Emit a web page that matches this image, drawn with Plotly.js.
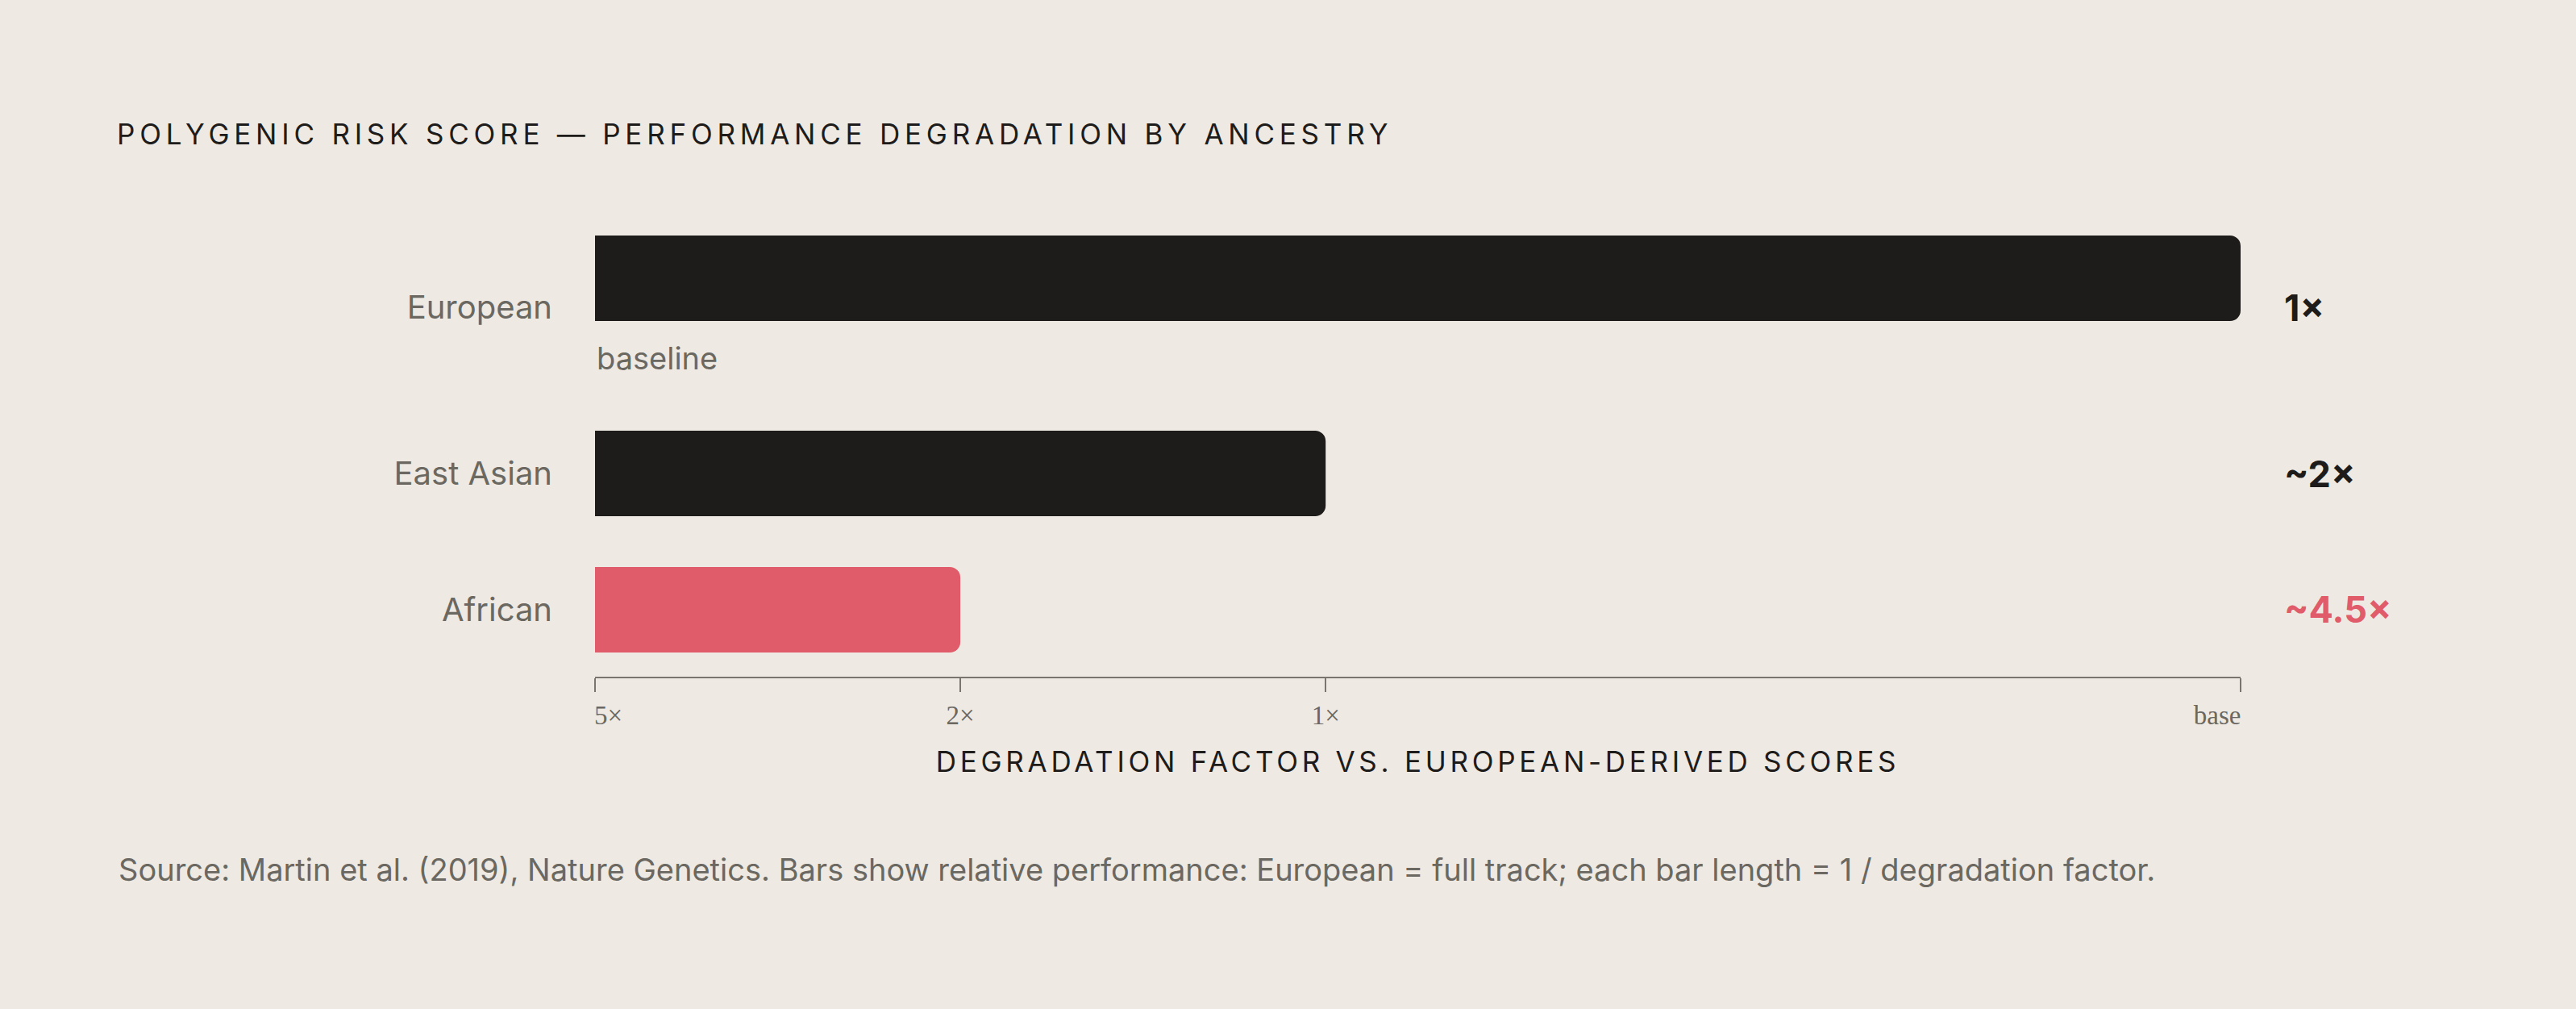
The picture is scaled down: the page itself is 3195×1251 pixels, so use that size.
<!DOCTYPE html>
<html>
<head>
<meta charset="utf-8">
<script src="https://cdn.plot.ly/plotly-3.0.1.min.js"></script>
<style>
  html, body { margin: 0; padding: 0; background: #eeeae3; }
  #chart { width: 3195px; height: 1251px; }
  /* spaced capitals for the titles */
  .gtitle { letter-spacing: 0.165em; }
  .xtitle { letter-spacing: 0.135em; }
</style>
</head>
<body>
<div id="chart"></div>
<script>
// rows, top to bottom
var ancestries = ['European', 'East Asian', 'African'];
// bar length (European = full track)
var relPerf = [1, 0.444, 0.222];
var factorLabels = ['1×', '~2×', '~4.5×'];
var barColors = ['#1e1c1a', '#1e1c1a', '#e05c6b'];

// x axis ticks (edge labels are cut off in the original)
var tickVals = [0, 0.222, 0.444, 1];
var tickText = ['\u00a0\u00a0\u00a0\u00a05×', '2×', '1×', 'base\u00a0\u00a0\u00a0\u00a0\u00a0\u00a0\u00a0'];

var ink = '#1e1c1a';
var grey = '#6b6761';
var sans = 'Inter, "DejaVu Sans", sans-serif';

var W = 3195, H = 1251;
function fy(px) { return 1 - px / H; }

var yIds = ['y', 'y2', 'y3'];
var yBands = [[262, 428], [504, 670], [673, 839]];   // pixel rows of each bar band
var labelShift = [-36, 0, 0];

var traces = [];
var annotations = [];
var layout = {
    width: W,
    height: H,
    paper_bgcolor: '#eeeae3',
    plot_bgcolor: '#eeeae3',
    margin: { l: 738, r: 416, t: 0, b: 0 },
    showlegend: false,
    barcornerradius: 13,
    title: {
        text: 'POLYGENIC RISK SCORE — PERFORMANCE DEGRADATION BY ANCESTRY',
        font: { family: sans, size: 35, color: ink },
        xref: 'container', x: 145 / W, xanchor: 'left',
        yref: 'container', y: fy(167), yanchor: 'middle'
    },
    xaxis: {
        anchor: 'y3',
        range: [0, 1],
        fixedrange: true,
        showgrid: false,
        zeroline: false,
        showline: true,
        linecolor: '#7a766f',
        linewidth: 2,
        ticks: 'outside',
        ticklen: 17,
        tickwidth: 2,
        tickcolor: '#7a766f',
        tickmode: 'array',
        tickvals: tickVals,
        ticktext: tickText,
        tickfont: { family: '"Liberation Serif", serif', size: 33, color: grey },
        title: {
            text: 'DEGRADATION FACTOR VS. EUROPEAN-DERIVED SCORES',
            font: { family: sans, size: 35, color: ink },
            standoff: 29
        }
    },
    annotations: annotations
};

ancestries.forEach(function (name, i) {
    var yid = yIds[i];
    var axKey = 'yaxis' + (i === 0 ? '' : (i + 1));
    traces.push({
        type: 'bar',
        orientation: 'h',
        x: [relPerf[i]],
        y: [name],
        xaxis: 'x',
        yaxis: yid,
        width: 0.64,
        marker: { color: barColors[i], line: { width: 0 } },
        hoverinfo: 'skip'
    });
    layout[axKey] = {
        type: 'category',
        anchor: 'x',
        domain: [fy(yBands[i][1]), fy(yBands[i][0])],
        range: [-0.5, 0.5],
        fixedrange: true,
        showgrid: false,
        zeroline: false,
        showline: false,
        ticks: '',
        ticklabelstandoff: 52,
        ticklabelshift: -labelShift[i],
        tickfont: { family: sans, size: 40, color: grey }
    };
    // value label on the right
    annotations.push({
        text: '<b>' + factorLabels[i] + '</b>',
        xref: 'paper', x: 1, xanchor: 'left', xshift: 52,
        yref: yid, y: name, yanchor: 'middle', yshift: labelShift[i],
        showarrow: false,
        font: { family: sans, size: 45, color: barColors[i] }
    });
});

// sub-label under the European bar
annotations.push({
    text: 'baseline',
    xref: 'x', x: 0, xanchor: 'left',
    yref: 'y', y: ancestries[0], yanchor: 'middle', yshift: -99,
    showarrow: false,
    font: { family: sans, size: 38, color: grey }
});

// source note
annotations.push({
    text: 'Source: Martin et al. (2019), Nature Genetics. Bars show relative performance: European = full track; each bar length = 1 / degradation factor.',
    xref: 'paper', x: (145 - 738) / (W - 738 - 416), xanchor: 'left',
    yref: 'paper', y: fy(1078), yanchor: 'middle',
    showarrow: false,
    font: { family: sans, size: 38, color: grey }
});

Plotly.newPlot('chart', traces, layout, { staticPlot: true, displayModeBar: false });
</script>
</body>
</html>
